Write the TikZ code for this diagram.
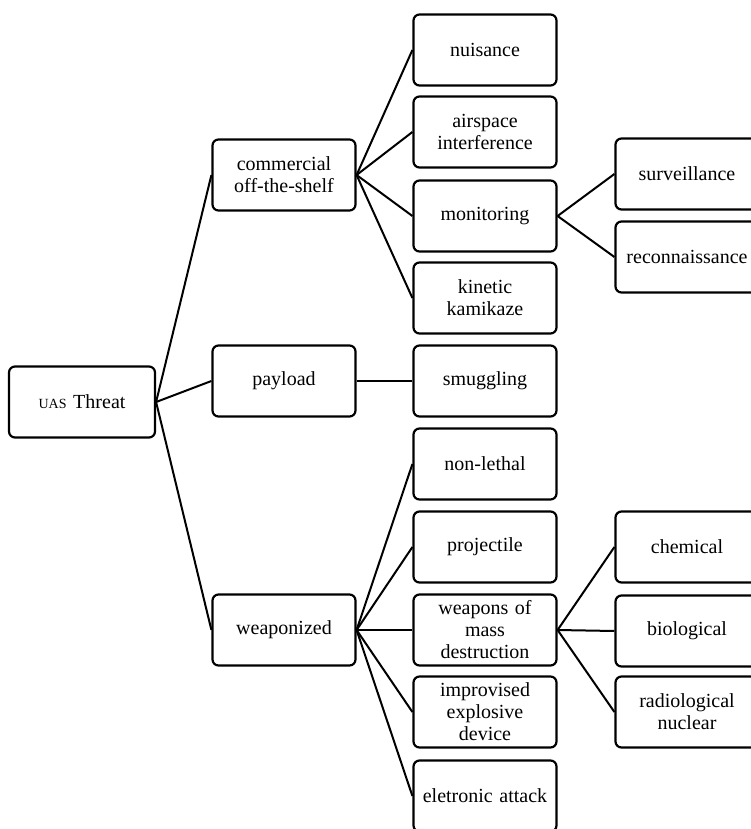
\documentclass[tikz,border=0pt]{standalone}
\usepackage{fontspec}
\setmainfont{Liberation Serif}
\usepackage{tikz}
\tikzset{box/.style={draw,rounded corners=6pt,line width=2.2pt,
        minimum width=143pt,minimum height=71pt,text width=136pt,
        align=center,inner sep=2pt,font=\fontsize{20}{22}\selectfont},
    wide/.style={minimum width=146pt},
    link/.style={draw,line width=2pt}}
\newcommand{\uas}{{\fontsize{14}{16}\selectfont UAS}}

\begin{document}
\begin{tikzpicture}[x=1pt,y=-1pt]
\useasboundingbox (0,0) rectangle (751,829);
\clip (0,0) rectangle (751,829);
% root
\node[box,wide] (threat) at (82,402) {\uas{} Threat};
% first level
\node[box] (cots) at (284,175) {commercial\\off-the-shelf};
\node[box] (payload) at (284,381) {payload};
\node[box] (weapon) at (284,630) {weaponized};
% second level
\node[box] (nuis) at (485,50) {nuisance};
\node[box] (air) at (485,132) {airspace\\interference};
\node[box] (moni) at (485,216) {monitoring};
\node[box] (kin) at (485,298) {kinetic\\kamikaze};
\node[box] (smug) at (485,381) {smuggling};
\node[box] (nonl) at (485,464) {non-lethal};
\node[box] (proj) at (485,547) {projectile};
\node[box] (wmd) at (485,630) {weapons of\\mass\\destruction};
\node[box] (ied) at (485,712) {improvised\\explosive\\device};
\node[box] (elec) at (485,796) {eletronic attack};
% third level
\node[box] (surv) at (687,174) {surveillance};
\node[box] (recon) at (687,257) {reconnaissance};
\node[box] (chem) at (687,547) {chemical};
\node[box] (bio) at (687,631) {biological};
\node[box] (rad) at (687,712) {radiological\\nuclear};

\foreach \a/\b in {threat/cots,threat/payload,threat/weapon,
    cots/nuis,cots/air,cots/moni,cots/kin,payload/smug,
    weapon/nonl,weapon/proj,weapon/wmd,weapon/ied,weapon/elec,
    moni/surv,moni/recon,wmd/chem,wmd/bio,wmd/rad}
  \draw[link] (\a.east) -- (\b.west);
\end{tikzpicture}
\end{document}
